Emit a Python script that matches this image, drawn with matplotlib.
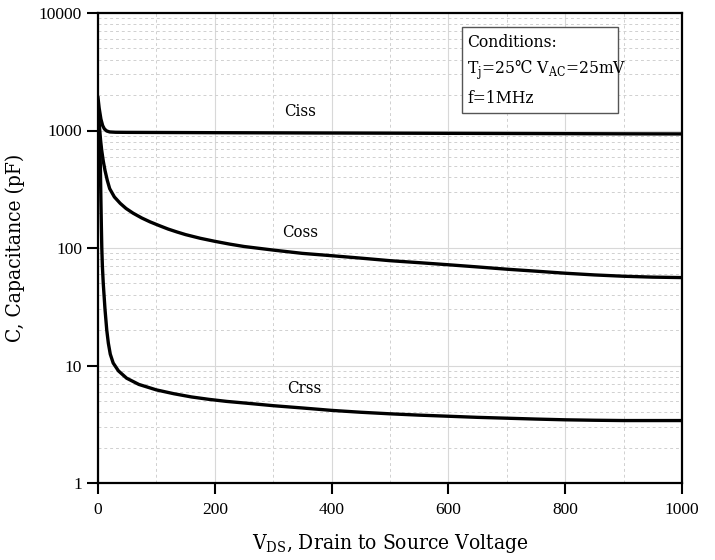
import matplotlib
matplotlib.use('Agg')
import matplotlib.pyplot as plt
import matplotlib.ticker as ticker
import numpy as np

v_iss = [0, 2, 5, 8, 11, 15, 20, 30, 50, 100, 200, 300, 400, 500, 600, 700, 800, 900, 1000]
c_iss = [1900, 1550, 1250, 1100, 1030, 990, 972, 966, 964, 962, 958, 955, 952, 949, 946, 943, 940, 937, 935]

v_oss = [0, 1.5, 3, 4.5, 6.3, 9, 12, 16, 20, 28, 38, 48, 60, 75, 89, 105, 120, 135, 150, 175, 200, 225, 250,
         300, 350, 400, 450, 500, 550, 600, 650, 700, 750, 800, 850, 900, 950, 1000]
c_oss = [1600, 1250, 1000, 820, 680, 550, 457, 375, 320, 272, 240, 217, 198, 180, 167, 155, 145, 137, 130, 121, 114, 108, 103,
         96, 90, 86, 82, 78, 75, 72, 69, 66, 63.5, 61, 59, 57.5, 56.5, 56]

v_rss = [0, 1.5, 3.4, 4.2, 5, 5.8, 6.5, 7.5, 9, 12, 15, 17.7, 21, 26, 35, 49, 70, 100, 130, 160, 190, 220, 260,
         300, 350, 400, 450, 500, 550, 600, 650, 700, 750, 800, 850, 900, 950, 1000]
c_rss = [1200, 900, 680, 450, 250, 150, 100, 70, 50, 30, 20, 15.5, 12.5, 10.5, 9, 7.8, 6.9, 6.2, 5.75, 5.4, 5.15, 4.95, 4.75,
         4.55, 4.35, 4.15, 4.0, 3.88, 3.78, 3.7, 3.62, 3.56, 3.5, 3.45, 3.42, 3.4, 3.4, 3.4]

x_ticks = [0, 200, 400, 600, 800, 1000]
y_ticks = [1, 10, 100, 1000, 10000]
y_tick_labels = ['1', '10', '100', '1000', '10000']

tick_font = 'Liberation Serif'
text_font = ['DejaVu Serif', 'DejaVu Sans']

fig = plt.figure(figsize=(7.15, 5.6), dpi=100)
ax = fig.add_axes([98/715, 77/560, 584/715, 470/560])

ax.plot(v_iss, c_iss, color='black', lw=2.4)
ax.plot(v_oss, c_oss, color='black', lw=2.4)
ax.plot(v_rss, c_rss, color='black', lw=2.4)

ax.set_yscale('log')
ax.set_xlim(0, 1000)
ax.set_ylim(1, 10000)
ax.set_xticks(x_ticks)
ax.set_xticklabels([str(t) for t in x_ticks], fontname=tick_font, fontsize=12.5)
ax.set_yticks(y_ticks)
ax.set_yticklabels(y_tick_labels, fontname=tick_font, fontsize=12.5)
ax.xaxis.set_minor_locator(ticker.MultipleLocator(100))
ax.yaxis.set_minor_locator(ticker.LogLocator(base=10, subs=np.arange(2, 10)))
ax.yaxis.set_minor_formatter(ticker.NullFormatter())
ax.tick_params(which='major', direction='out', length=8, width=1.5)
ax.tick_params(which='minor', length=0)
ax.tick_params(axis='x', pad=6)

ax.grid(which='major', color='#d8d8d8', lw=0.8, ls='-')
ax.grid(which='minor', color='#d0d0d0', lw=0.7, ls=(0, (3, 3)))
ax.set_axisbelow(True)
for s in ax.spines.values():
    s.set_linewidth(1.6)

ax.text(346, 1450, 'Ciss', fontsize=12, family=text_font, fontstretch='condensed', ha='center', va='center')
ax.text(346, 135, 'Coss', fontsize=12, family=text_font, fontstretch='condensed', ha='center', va='center')
ax.text(354, 6.4, 'Crss', fontsize=12, family=text_font, fontstretch='condensed', ha='center', va='center')

ax.add_patch(plt.Rectangle((0.623, 0.787), 0.267, 0.183, transform=ax.transAxes,
                           fill=True, facecolor='white', edgecolor='#555555', lw=1.0, zorder=3))
ax.text(0.632, 0.937, 'Conditions:', transform=ax.transAxes, fontsize=12.5,
        family=text_font, fontstretch='condensed', va='center', zorder=4)
ax.text(0.632, 0.878, r'T$_\mathregular{j}$=25℃ V$_\mathregular{AC}$=25mV', transform=ax.transAxes,
        fontsize=12.5, family=text_font, fontstretch='condensed', va='center', zorder=4)
ax.text(0.632, 0.818, 'f=1MHz', transform=ax.transAxes, fontsize=12.5,
        family=text_font, fontstretch='condensed', va='center', zorder=4)

ax.set_xlabel(r'V$_\mathregular{DS}$, Drain to Source Voltage', fontsize=15,
              family=text_font, fontstretch='condensed', labelpad=10)
ax.set_ylabel('C, Capacitance (pF)', fontsize=15, family=text_font,
              fontstretch='condensed', labelpad=10)

fig.savefig('out.png', dpi=100)
